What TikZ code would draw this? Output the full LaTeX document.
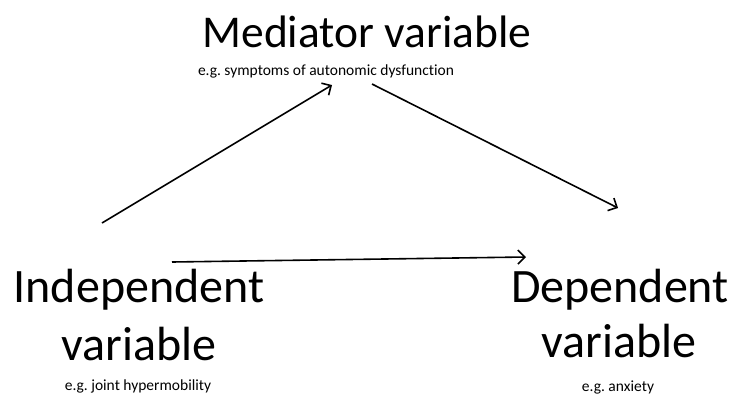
\documentclass[tikz,border=0pt]{standalone}
\usepackage{fontspec}
\setmainfont{Carlito}[Ligatures=NoCommon]
\usetikzlibrary{arrows.meta}
\frenchspacing
\tikzset{
  bigtext/.style={inner sep=0pt, anchor=base, font=\fontsize{48}{54}\selectfont},
  smalltext/.style={inner sep=0pt, anchor=base, font=\fontsize{15.5}{18}\selectfont},
  link/.style={line width=1.6pt, -{Straight Barb[length=7pt,width=14pt,line width=1.6pt]}}
}
\begin{document}
\begin{tikzpicture}[x=1pt,y=-1pt]
  \useasboundingbox[fill=white] (0,0) rectangle (734,397);
  % mediator
  \node[bigtext, font=\fontsize{45.5}{52}\selectfont] (med) at (367,47) {Mediator variable};
  \node[smalltext] (medex) at (326,75) {e.g. symptoms of autonomic dysfunction};
  % independent
  \node[bigtext] (iv1) at (139,302) {Independent};
  \node[bigtext] (iv2) at (139,360) {variable};
  \node[smalltext] (ivex) at (138,390) {e.g. joint hypermobility};
  % dependent
  \node[bigtext] (dv1) at (620,302) {Dependent};
  \node[bigtext] (dv2) at (619,357) {variable};
  \node[smalltext] (dvex) at (618,391) {e.g. anxiety};
  % connector ends
  \coordinate (ivup) at (102,223);
  \coordinate (medin) at (332,85);
  \coordinate (medout) at (372,84);
  \coordinate (dvin) at (618,208);
  \coordinate (ivright) at (172,262);
  \coordinate (dvleft) at (526,257);
  \draw[link] (ivup) -- (medin);
  \draw[link] (medout) -- (dvin);
  \draw[link] (ivright) -- (dvleft);
\end{tikzpicture}
\end{document}
